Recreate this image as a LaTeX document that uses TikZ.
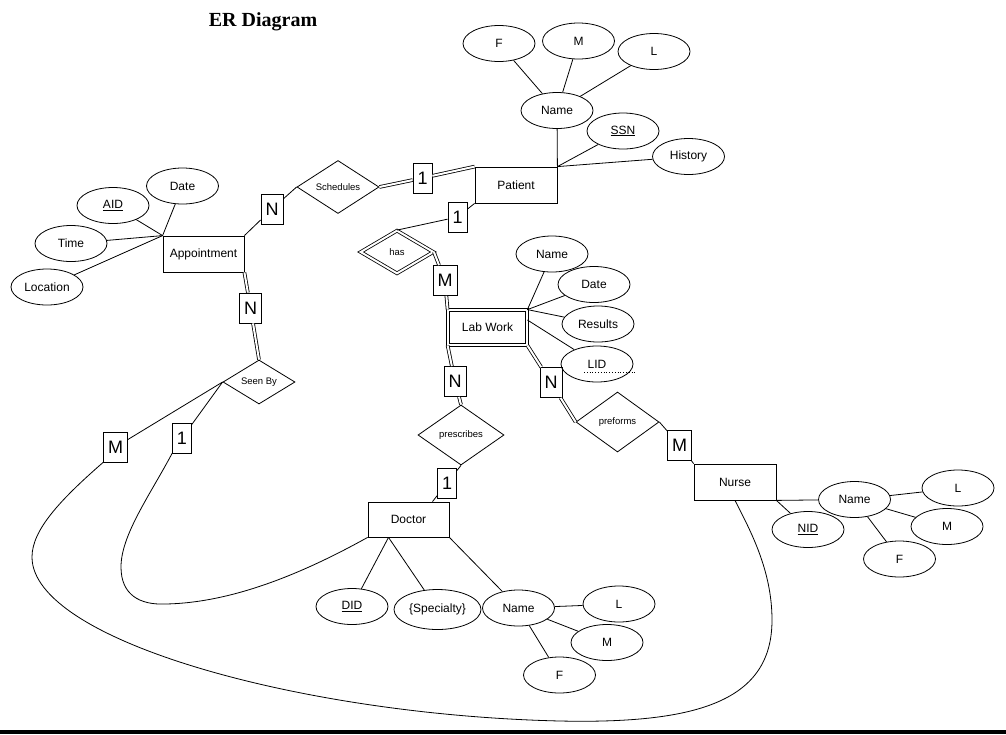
\documentclass[tikz,border=0pt]{standalone}
\usepackage{fontspec}
\setmainfont{Liberation Sans}
\newfontfamily\titlefont{Liberation Serif}
\usepackage{tikz}
\usetikzlibrary{shapes.geometric,calc,positioning}
\tikzset{entity/.style = {draw, rectangle, minimum width=81pt, minimum height=36pt,
                  inner sep=0pt, font=\fontsize{12}{14}\selectfont},
        wentity/.style = {entity, double, double distance=2pt,
                  minimum width=79pt, minimum height=35pt},
        attr/.style = {draw, ellipse, minimum width=72pt, minimum height=36pt,
                  inner sep=0pt, font=\fontsize{12}{14}\selectfont},
        dbl/.style = {double, double distance=2pt}
    }

\begin{document}
\begin{tikzpicture}[x=1pt, y=-1pt, line width=0.8pt]
  \tikzstyle{rel} = [draw, diamond, aspect=1.6, inner sep=0pt, font=\fontsize{9.5}{11}\selectfont]
  \tikzstyle{card} = [draw, fill=white, rectangle, minimum height=30pt, inner xsep=4.5pt,
                      inner ysep=0pt, font=\fontsize{18}{20}\selectfont]

  \useasboundingbox (0,0) rectangle (1006,734);
  \node[font=\titlefont\bfseries\fontsize{20}{24}\selectfont] (title) at (263,22) {ER Diagram};

  % entities
  \node[entity] (app) at (203.5,254) {Appointment};
  \node[entity, minimum width=82pt] (pat) at (516,185) {Patient};
  \node[wentity] (lab) at (487.5,327.5) {Lab Work};
  \node[entity, minimum height=35pt] (doc) at (408.5,519.5) {Doctor};
  \node[entity, minimum width=82pt] (nurse) at (735,482) {Nurse};

  % relationships
  \node[rel, minimum width=82pt, minimum height=53pt] (sched) at (338,187) {Schedules};
  \node[rel, double, double distance=2pt, minimum width=73pt, minimum height=43pt] (has) at (397,252) {has};
  \node[rel, minimum width=86pt, minimum height=60pt] (presc) at (461,435) {prescribes};
  \node[rel, minimum width=83pt, minimum height=60pt] (pref) at (617.5,422) {preforms};
  \node[rel, minimum width=72pt, minimum height=44pt] (seen) at (259,382) {Seen By};

  % cardinalities
  \node[card] (nSched) at (272,209) {N};
  \node[card] (oPat) at (422.5,178) {1};
  \node[card] (oHas) at (457.5,217) {1};
  \node[card] (mHas) at (445,280.5) {M};
  \node[card] (nLab) at (455,381.5) {N};
  \node[card] (nPref) at (551,382.5) {N};
  \node[card] (mNurse) at (679.5,445) {M};
  \node[card] (oDoc) at (447,483) {1};
  \node[card] (nSeen) at (250.5,308) {N};
  \node[card] (mSeen) at (115.5,447) {M};
  \node[card] (oSeen) at (182,438) {1};

  % attributes
  \node[attr] (aDate) at (182.5,186) {Date};
  \node[attr] (aId) at (113,205.5) {\underline{AID}};
  \node[attr] (aTime) at (71,243.5) {Time};
  \node[attr] (aLoc) at (47,287) {Location};

  \node[attr] (pName) at (557,110.5) {Name};
  \node[attr] (pSSN) at (623,131) {\underline{SSN}};
  \node[attr] (pHist) at (688.5,156.5) {History};
  \node[attr] (pF) at (499,43.5) {F};
  \node[attr] (pM) at (578.5,41) {M};
  \node[attr] (pL) at (654,51.5) {L};

  \node[attr] (lName) at (552,254) {Name};
  \node[attr] (lDate) at (594,284.5) {Date};
  \node[attr] (lRes) at (598,324) {Results};
  \node[attr] (lId) at (597,364) {LID};

  \node[attr] (dId) at (352,606.5) {\underline{DID}};
  \node[attr, minimum width=87pt, minimum height=40pt] (dSpec) at (437.5,609.5) {\{Specialty\}};
  \node[attr] (dName) at (518.5,608) {Name};
  \node[attr] (dL) at (619,604) {L};
  \node[attr] (dM) at (607,642.5) {M};
  \node[attr] (dF) at (559.5,675) {F};

  \node[attr] (nName) at (854.5,499.5) {Name};
  \node[attr] (nId) at (808,529.5) {\underline{NID}};
  \node[attr] (nL) at (958,488) {L};
  \node[attr] (nM) at (947,526.5) {M};
  \node[attr] (nF) at (899.5,559) {F};

  \foreach \a in {aDate,aId,aTime,aLoc}
    \draw (app.north west) -- (\a);
  \foreach \a in {pName,pSSN,pHist}
    \draw (pat.north east) -- (\a);
  \foreach \a in {pF,pM,pL}
    \draw (pName) -- (\a);
  \foreach \a in {lName,lDate,lRes}
    \draw (lab.north east) -- (\a);
  \draw ([yshift=7.5pt]lab.east) -- (lId);
  \draw[dotted] ([xshift=-13pt,yshift=-8pt]lId.center) -- ++(51,0);
  \draw ([xshift=-20pt]doc.south) -- (dId);
  \draw ([xshift=-20pt]doc.south) -- (dSpec);
  \draw (doc.south east) -- (dName);
  \foreach \a in {dL,dM,dF}
    \draw (dName) -- (\a);
  \draw (nurse.south east) -- (nName);
  \draw (nurse.south east) -- (nId);
  \foreach \a in {nL,nM,nF}
    \draw (nName) -- (\a);

  % relationship lines
  \draw (app.north east) -- (nSched) -- (sched.west);
  \draw[dbl] (sched.east) -- (oPat) -- (pat.north west);
  \draw (pat.south west) -- (oHas) -- (has.north);
  \draw[dbl] (has.east) -- (mHas) -- (lab.north west);
  \draw[dbl] (lab.south west) -- (nLab) -- (presc.north);
  \draw[dbl] (lab.south east) -- (nPref) -- (pref.west);
  \draw (pref.east) -- (mNurse) -- (nurse.north west);
  \draw (presc.south) -- (oDoc) -- ([xshift=24pt]doc.north);
  \draw[dbl] (app.south east) -- (nSeen) -- (seen.north);
  \draw (seen.west) -- (mSeen);
  \draw (seen.west) -- (oSeen);
  \draw (oSeen.south west) .. controls (150,495) and (121,535) .. (121,567)
        .. controls (121,595) and (140,605) .. (165,604)
        .. controls (230,603) and (300,575) .. (doc.south west);
  \draw (mSeen.south west) .. controls (60,500) and (32,530) .. (32,557)
        .. controls (32,640) and (300,715) .. (560,721)
        .. controls (700,724) and (772,700) .. (772,620)
        .. controls (772,570) and (750,530) .. (nurse.south);

  \fill (0,729.5) rectangle (1006,734);
\end{tikzpicture}
\end{document}
